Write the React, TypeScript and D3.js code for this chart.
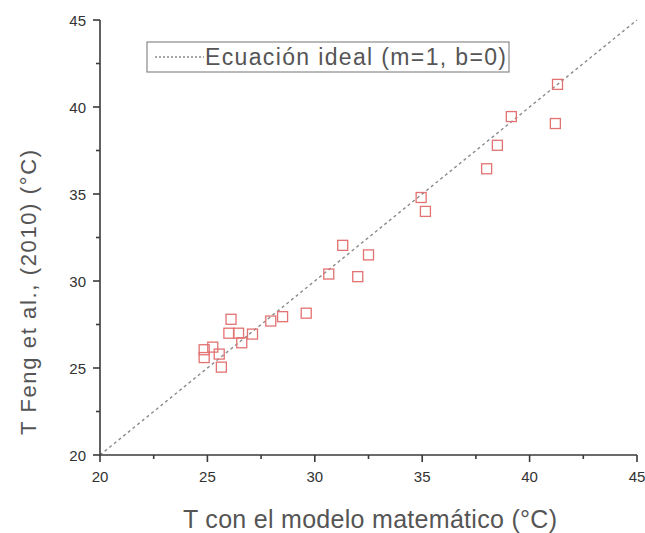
import React from "react";
import * as d3 from "d3";

const modelT = [24.85, 24.85, 25.25, 25.55, 25.65, 26.0, 26.1, 26.45, 26.6, 27.1, 27.95, 28.5, 29.6, 30.65, 31.3, 32.0, 32.5, 34.95, 35.15, 38.0, 38.5, 39.15, 41.2, 41.3];
const fengT = [26.05, 25.6, 26.2, 25.8, 25.05, 27.0, 27.8, 27.0, 26.45, 26.95, 27.7, 27.95, 28.15, 30.4, 32.05, 30.25, 31.5, 34.8, 34.0, 36.45, 37.8, 39.45, 39.05, 41.3];
const majorTicks = [20, 25, 30, 35, 40, 45];
const minorTicks = [22.5, 27.5, 32.5, 37.5, 42.5];
const idealLine = [20, 45];
const legendLabel = "Ecuación ideal (m=1, b=0)";
const xTitle = "T con el modelo matemático (°C)";
const yTitle = "T Feng et al., (2010) (°C)";

export default function App() {
  const W = 645, H = 533;
  const x = d3.scaleLinear().domain([20, 45]).range([100, 637]);
  const y = d3.scaleLinear().domain([20, 45]).range([455, 20]);
  const line = d3.line<number>().x(d => x(d)).y(d => y(d));
  const axisColor = "#3a3a3a";
  const font = "'Liberation Sans', Arial, sans-serif";
  const titleColor = "#555";
  const s = 10;
  return (
    <svg width={W} height={H} style={{ position: "absolute", left: 0, top: 0, background: "#fff" }}>
      <rect x={0} y={0} width={W} height={H} fill="#fff" />
      {/* ideal line */}
      <path d={line(idealLine) || ""} stroke="#8a8a8a" strokeWidth={1.4} strokeDasharray="3,3" fill="none" />
      {/* points */}
      {modelT.map((v, i) => (
        <rect key={i} x={x(v) - s / 2} y={y(fengT[i]) - s / 2} width={s} height={s}
          fill="none" stroke="#e37272" strokeWidth={1.3} />
      ))}
      {/* axes */}
      <line x1={x(20)} x2={x(45)} y1={y(20)} y2={y(20)} stroke={axisColor} strokeWidth={1.6} />
      <line x1={x(20)} x2={x(20)} y1={y(20)} y2={y(45)} stroke={axisColor} strokeWidth={1.6} />
      {majorTicks.map(t => (
        <g key={"mx" + t}>
          <line x1={x(t)} x2={x(t)} y1={y(20)} y2={y(20) + 7} stroke={axisColor} strokeWidth={1.6} />
          <text x={x(t)} y={482} textAnchor="middle" fontFamily={font} fontSize={15} fill="#333">{t}</text>
          <line x1={x(20)} x2={x(20) - 7} y1={y(t)} y2={y(t)} stroke={axisColor} strokeWidth={1.6} />
          <text x={86} y={y(t) + 5.5} textAnchor="end" fontFamily={font} fontSize={15} fill="#333">{t}</text>
        </g>
      ))}
      {minorTicks.map(t => (
        <g key={"mn" + t}>
          <line x1={x(t)} x2={x(t)} y1={y(20)} y2={y(20) + 4} stroke={axisColor} strokeWidth={1.6} />
          <line x1={x(20)} x2={x(20) - 4} y1={y(t)} y2={y(t)} stroke={axisColor} strokeWidth={1.6} />
        </g>
      ))}
      {/* titles */}
      <text x={183} y={528} fontFamily={font} fontSize={25} fill={titleColor}
        textLength={374} lengthAdjust="spacing">{xTitle}</text>
      <text transform={`translate(36,435) rotate(-90)`} fontFamily={font} fontSize={22} fill={titleColor}
        textLength={285} lengthAdjust="spacing">{yTitle}</text>
      {/* legend */}
      <rect x={147} y={42} width={362} height={30} fill="#fff" stroke="#8a8a8a" strokeWidth={1.2} />
      <line x1={155} x2={204} y1={57} y2={57} stroke="#8a8a8a" strokeWidth={1.4} strokeDasharray="2,2" />
      <text x={205} y={65} fontFamily={font} fontSize={23} fill={titleColor}
        textLength={301} lengthAdjust="spacing">{legendLabel}</text>
    </svg>
  );
}
